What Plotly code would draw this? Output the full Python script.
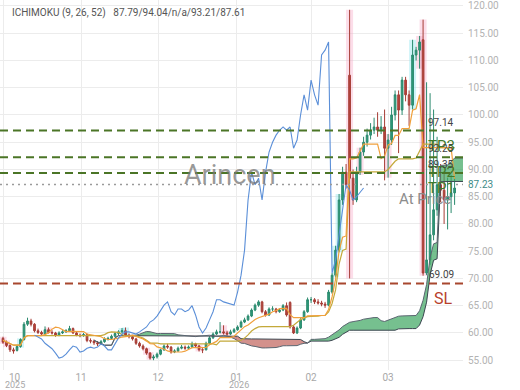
import numpy as np
import pandas as pd
import plotly.graph_objects as go

# ---------------- data (daily bars, index 0 = early Oct 2025) ----------------
opens = [59.0, 58.3, 57.7, 56.9, 56.8, 57.5, 58.8, 61.6, 62.2, 61.6,
         60.4, 60.1, 59.8, 60.6, 60.1, 60.0, 59.6, 60.0, 60.2, 60.4,
         60.8, 60.0, 59.6, 59.5, 59.7, 58.6, 58.5, 58.2, 58.0, 58.4,
         58.9, 59.0, 59.4, 59.9, 60.2, 60.4, 59.6, 59.3, 58.9, 58.1,
         57.6, 57.1, 56.3, 55.4, 55.6, 56.1, 56.9, 57.6, 57.4, 56.5,
         56.7, 57.2, 57.4, 57.2, 57.4, 58.0, 57.6, 56.9, 56.9, 58.1,
         59.1, 59.8, 60.2, 60.2, 60.0, 59.8, 60.2, 60.6, 61.1, 62.0,
         62.4, 63.1, 64.2, 65.1, 65.7, 63.9, 63.3, 64.4, 64.4, 63.9,
         64.2, 65.0, 65.6, 61.1, 60.0, 60.9, 62.4, 63.9, 66.1, 66.1,
         65.7, 65.5, 65.3, 65.1, 67.5, 70.6, 75.2, 84.4, 89.5, 107.3,
         88.4, 84.4, 89.5, 93.2, 95.0, 96.3, 97.2, 97.8, 97.2, 97.8,
         93.9, 95.4, 100.0, 103.7, 100.9, 106.4, 103.7, 101.8, 111.0, 111.9,
         113.8, 71.0, 73.4, 78.0, 82.6, 87.2, 86.2, 84.4, 85.0, 85.7]
highs = [59.3, 58.6, 57.9, 57.3, 57.8, 59.0, 62.0, 62.8, 62.6, 61.8,
         60.8, 60.4, 61.2, 61.0, 60.5, 60.2, 60.3, 60.5, 60.7, 61.3,
         61.0, 60.3, 59.9, 60.0, 59.9, 59.0, 58.8, 58.5, 58.7, 59.2,
         59.3, 59.7, 60.2, 60.5, 60.9, 61.0, 59.9, 59.5, 59.1, 58.4,
         57.9, 57.3, 56.5, 56.0, 56.4, 57.1, 57.9, 58.0, 57.6, 57.0,
         57.5, 57.8, 57.7, 57.7, 58.4, 58.2, 57.8, 57.2, 58.4, 59.4,
         60.1, 60.6, 62.0, 61.4, 60.4, 60.6, 60.9, 61.4, 62.3, 62.8,
         63.4, 64.5, 65.4, 66.0, 65.9, 64.2, 64.7, 64.9, 64.6, 64.5,
         65.3, 65.6, 65.8, 61.4, 61.2, 62.7, 64.2, 66.5, 66.6, 66.4,
         66.2, 65.9, 65.7, 67.9, 71.0, 76.0, 85.5, 90.5, 91.0, 119.3,
         90.0, 90.5, 94.0, 96.0, 97.5, 98.5, 99.5, 100.5, 99.8, 101.0,
         96.5, 101.5, 104.5, 104.5, 107.0, 107.0, 104.5, 113.8, 112.5, 114.5,
         117.5, 106.0, 104.0, 101.0, 96.0, 91.0, 89.5, 88.5, 89.0, 88.5]
lows = [58.0, 57.4, 56.5, 56.2, 56.6, 57.3, 58.6, 61.3, 61.2, 60.1,
        59.8, 59.5, 59.7, 59.9, 59.7, 59.3, 59.4, 59.8, 60.0, 60.2,
        59.8, 59.4, 59.2, 59.3, 58.3, 58.1, 57.8, 57.6, 57.8, 58.2,
        58.6, 58.8, 59.2, 59.6, 60.0, 59.4, 59.0, 58.6, 57.8, 57.3,
        56.8, 56.0, 55.1, 55.0, 55.3, 55.9, 56.7, 57.1, 56.2, 56.3,
        56.5, 57.0, 56.9, 57.0, 57.2, 57.3, 56.6, 56.3, 56.8, 57.9,
        58.9, 59.6, 59.9, 59.7, 59.5, 59.6, 60.0, 60.4, 60.9, 61.8,
        62.2, 62.9, 64.0, 64.8, 63.6, 63.0, 63.1, 64.0, 63.6, 63.7,
        64.0, 63.0, 60.8, 59.8, 59.8, 60.7, 62.2, 63.7, 65.5, 65.3,
        65.2, 64.9, 64.6, 64.9, 67.2, 70.2, 74.8, 83.5, 86.5, 70.0,
        83.5, 84.0, 89.0, 92.5, 94.2, 95.5, 96.5, 96.0, 96.5, 88.0,
        88.5, 94.5, 99.0, 93.0, 100.0, 102.5, 98.0, 101.0, 110.0, 108.5,
        70.5, 70.6, 72.5, 77.0, 81.5, 84.0, 80.0, 79.0, 82.0, 83.5]
closes = [58.3, 57.7, 56.9, 56.7, 57.5, 58.8, 61.6, 62.2, 61.6, 60.4,
          60.1, 59.8, 60.6, 60.1, 60.0, 59.6, 60.0, 60.2, 60.4, 60.8,
          60.0, 59.6, 59.5, 59.7, 58.6, 58.5, 58.2, 58.0, 58.4, 58.9,
          59.0, 59.4, 59.9, 60.2, 60.4, 59.6, 59.3, 58.9, 58.1, 57.6,
          57.1, 56.3, 55.4, 55.6, 56.1, 56.9, 57.6, 57.4, 56.5, 56.7,
          57.2, 57.4, 57.2, 57.4, 58.0, 57.6, 56.9, 56.9, 58.1, 59.1,
          59.8, 60.2, 60.2, 60.0, 59.8, 60.2, 60.6, 61.1, 62.0, 62.4,
          63.1, 64.2, 65.1, 65.7, 63.9, 63.3, 64.4, 64.4, 63.9, 64.2,
          65.0, 63.3, 61.1, 60.0, 60.9, 62.4, 63.9, 66.1, 66.1, 65.7,
          65.5, 65.3, 65.1, 67.5, 70.6, 75.2, 84.4, 89.5, 87.2, 88.4,
          84.4, 89.5, 93.2, 95.0, 96.3, 97.2, 97.8, 97.2, 97.8, 93.9,
          95.4, 100.0, 103.7, 100.9, 106.4, 103.7, 101.8, 111.0, 111.9, 113.4,
          71.0, 73.4, 78.0, 82.6, 87.2, 86.2, 84.4, 85.0, 85.7, 86.6]

month_ticks = [0, 22.3, 44.3, 66.6, 88, 110]
month_labels = ["10", "11", "12", "01", "02", "03"]
year_labels = ["2025", "2026"]
tp_levels = [97.14, 92.25, 89.35]
tp_names = ["TP3", "TP2", "TP1"]
entry_price = 87.23
stop_loss = 69.09
pink_bars = [0, 1, 13, 41, 42, 56, 63, 64, 99, 102, 110, 119, 120]
cyan_bars = [5, 34, 35, 95, 96, 117]
legend_text = "ICHIMOKU (9, 26, 52)   87.79/94.04/n/a/93.21/87.61"

# ---------------- Ichimoku computation ----------------
n = len(closes)
x = np.arange(n)
H = pd.Series(highs)
L = pd.Series(lows)
tenkan = (H.rolling(9, min_periods=1).max() + L.rolling(9, min_periods=1).min()) / 2
kijun = (H.rolling(26, min_periods=1).max() + L.rolling(26, min_periods=1).min()) / 2
spanA = ((tenkan + kijun) / 2).values
spanB = ((H.rolling(52, min_periods=1).max() + L.rolling(52, min_periods=1).min()) / 2).values
SHIFT = 26
xd = x + SHIFT
CHIKOU_START = 35  # first close whose lagging value is visible

fig = go.Figure()

# candle highlight boxes
for idxs, col in ((pink_bars, "rgba(248,170,200,0.40)"), (cyan_bars, "rgba(150,230,240,0.45)")):
    fig.add_trace(go.Bar(x=[x[i] for i in idxs],
                         y=[highs[i] - lows[i] for i in idxs],
                         base=[lows[i] for i in idxs],
                         width=2.0, marker=dict(color=col, line=dict(width=0)),
                         hoverinfo="skip", showlegend=False))

# cloud fill segments
segs = []
cur = {"x": [xd[0]], "a": [spanA[0]], "b": [spanB[0]]}
cur_sign = spanA[0] >= spanB[0]
for i in range(1, n):
    s = spanA[i] >= spanB[i]
    if s != cur_sign:
        d0 = spanA[i - 1] - spanB[i - 1]
        d1 = spanA[i] - spanB[i]
        t = d0 / (d0 - d1)
        xc = xd[i - 1] + t * (xd[i] - xd[i - 1])
        yc = spanA[i - 1] + t * (spanA[i] - spanA[i - 1])
        cur["x"].append(xc); cur["a"].append(yc); cur["b"].append(yc)
        segs.append((cur, cur_sign))
        cur = {"x": [xc], "a": [yc], "b": [yc]}
        cur_sign = s
    cur["x"].append(xd[i]); cur["a"].append(spanA[i]); cur["b"].append(spanB[i])
segs.append((cur, cur_sign))

for seg, up in segs:
    fc = "rgba(60,165,95,0.70)" if up else "rgba(175,55,45,0.55)"
    fig.add_trace(go.Scatter(x=seg["x"], y=seg["b"], mode="lines",
                             line=dict(width=0), hoverinfo="skip", showlegend=False))
    fig.add_trace(go.Scatter(x=seg["x"], y=seg["a"], mode="lines", fill="tonexty",
                             fillcolor=fc, line=dict(width=0),
                             hoverinfo="skip", showlegend=False))

# candles
fig.add_trace(go.Candlestick(
    x=x, open=opens, high=highs, low=lows, close=closes,
    increasing=dict(line=dict(color="#2b8a6e", width=1), fillcolor="#2f9c7b"),
    decreasing=dict(line=dict(color="#a63d36", width=1), fillcolor="#b5453c"),
    showlegend=False, hoverinfo="skip"))

# ichimoku lines
fig.add_trace(go.Scatter(x=xd, y=spanB, mode="lines",
                         line=dict(color="#3b4650", width=1), showlegend=False))
fig.add_trace(go.Scatter(x=xd, y=spanA, mode="lines",
                         line=dict(color="#5a6570", width=1), showlegend=False))
fig.add_trace(go.Scatter(x=x, y=kijun, mode="lines",
                         line=dict(color="#c4a93a", width=1.2), showlegend=False))
fig.add_trace(go.Scatter(x=x, y=tenkan, mode="lines",
                         line=dict(color="#f0a03c", width=1.2), showlegend=False))
fig.add_trace(go.Scatter(x=x[CHIKOU_START:] - SHIFT, y=closes[CHIKOU_START:], mode="lines",
                         line=dict(color="#5b8fd8", width=1.1), showlegend=False))

# horizontal levels
shapes = []
for lv in tp_levels:
    shapes.append(dict(type="line", xref="paper", x0=0, x1=1, yref="y", y0=lv, y1=lv,
                       line=dict(color="#4b7526", width=2, dash="8px,5px")))
shapes.append(dict(type="line", xref="paper", x0=0, x1=1, yref="y", y0=entry_price, y1=entry_price,
                   line=dict(color="#9a9a9a", width=1.6, dash="2px,4px")))
shapes.append(dict(type="line", xref="paper", x0=0, x1=1, yref="y", y0=stop_loss, y1=stop_loss,
                   line=dict(color="#a8472e", width=2, dash="8px,5px")))

ann = []
ann.append(dict(text=legend_text, xref="paper", yref="paper", x=10 / 463, y=1 - 13 / 370,
                xanchor="left", yanchor="middle", showarrow=False,
                font=dict(family="Roboto", size=10, color="#555555")))
ann.append(dict(text="Arincen", xref="paper", yref="paper", x=230 / 463, y=1 - 175 / 370,
                xanchor="center", yanchor="middle", showarrow=False,
                font=dict(family="Roboto", size=27, color="rgba(120,120,120,0.75)")))
for lv, nm in zip(tp_levels, tp_names):
    ann.append(dict(text=f"{lv:.2f}", xref="paper", x=426 / 463, yref="y", y=lv,
                    xanchor="left", yanchor="bottom", yshift=1, showarrow=False,
                    font=dict(family="Roboto", size=10, color="#444444")))
    ann.append(dict(text=nm, xref="paper", x=426 / 463, yref="y", y=lv,
                    xanchor="left", yanchor="top", yshift=-4, showarrow=False,
                    font=dict(family="Roboto", size=15, color="#3f7a2a")))
ann.append(dict(text="At Price", xref="paper", x=397 / 463, yref="y", y=entry_price,
                xanchor="left", yanchor="top", yshift=-3, showarrow=False,
                font=dict(family="Roboto", size=15, color="#8c8c8c")))
ann.append(dict(text=f"{entry_price:.2f}", xref="paper", x=1, yref="y", y=entry_price,
                xanchor="left", yanchor="middle", xshift=3, showarrow=False,
                font=dict(family="Roboto", size=10, color="#3f8c88")))
ann.append(dict(text=f"{stop_loss:.2f}", xref="paper", x=427 / 463, yref="y", y=stop_loss,
                xanchor="left", yanchor="bottom", yshift=1, showarrow=False,
                font=dict(family="Roboto", size=10, color="#444444")))
ann.append(dict(text="SL", xref="paper", x=432 / 463, yref="y", y=stop_loss,
                xanchor="left", yanchor="top", yshift=-4, showarrow=False,
                font=dict(family="Roboto", size=16, color="#b8402c")))
# first month label and year labels
ann.append(dict(text=month_labels[0], xref="x", x=month_ticks[0], yref="paper", y=0,
                xanchor="center", yanchor="middle", xshift=12, yshift=-7, showarrow=False,
                borderpad=0, font=dict(family="Roboto", size=10, color="#a8a8a8")))
ann.append(dict(text=year_labels[0], xref="x", x=month_ticks[0], yref="paper", y=0,
                xanchor="center", yanchor="middle", xshift=12, yshift=-15, showarrow=False,
                borderpad=0, font=dict(family="Roboto", size=9, color="#a8a8a8")))
ann.append(dict(text=year_labels[1], xref="x", x=month_ticks[3], yref="paper", y=0,
                xanchor="center", yanchor="middle", xshift=3, yshift=-15, showarrow=False,
                borderpad=0, font=dict(family="Roboto", size=9, color="#a8a8a8")))

fig.update_layout(
    width=520, height=390,
    margin=dict(l=0, r=57, t=0, b=20),
    paper_bgcolor="white", plot_bgcolor="white",
    showlegend=False, barmode="overlay",
    shapes=shapes, annotations=ann,
    font=dict(family="Roboto"),
    xaxis=dict(range=[-0.86, 131.4], tickmode="array", tickvals=month_ticks,
               ticktext=[""] + month_labels[1:], showgrid=True, gridcolor="#ececec",
               gridwidth=1, zeroline=False, showline=False, ticks="",
               ticklabelstandoff=0,
               tickfont=dict(size=10, color="#a8a8a8"), rangeslider=dict(visible=False),
               fixedrange=True),
    yaxis=dict(side="right", range=[53.2, 121.1], tickmode="array",
               tickvals=list(range(55, 121, 5)), tickformat=".2f",
               showgrid=True, gridcolor="#ececec", zeroline=False, showline=False,
               ticks="", ticklabelstandoff=4,
               tickfont=dict(size=10, color="#b3b3b3"), fixedrange=True),
)

fig.write_html("out.html")
